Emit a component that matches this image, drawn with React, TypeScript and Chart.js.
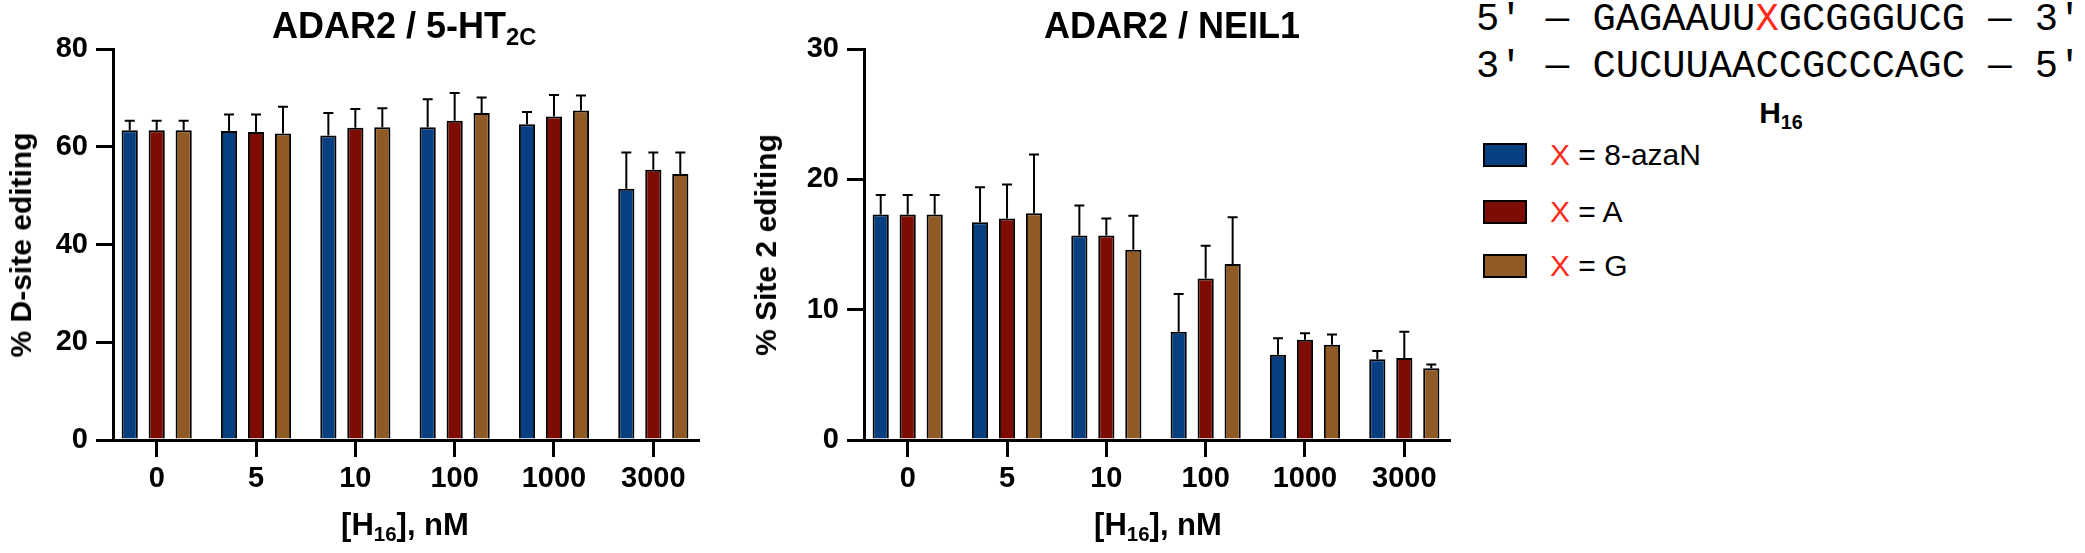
import React, { useEffect, useRef } from "react";
import { Chart, registerables } from "chart.js";

Chart.register(...registerables);

// ---------- data ----------
const categories = ["0", "5", "10", "100", "1000", "3000"];
const seriesNames = ["8-azaN", "A", "G"];
const seriesColors = ["#073f80", "#7f0c03", "#8f5a24"];

// ADAR2 / 5-HT2C, % D-site editing (mean, SD)
const htAzaN = [63.4, 63.2, 62.3, 64.0, 64.6, 51.4];
const htAzaNErr = [1.9, 3.4, 4.6, 5.7, 2.5, 7.4];
const htA = [63.4, 63.0, 63.9, 65.3, 66.2, 55.3];
const htAErr = [1.9, 3.6, 3.8, 5.7, 4.4, 3.5];
const htG = [63.4, 62.7, 64.0, 66.9, 67.4, 54.4];
const htGErr = [1.9, 5.5, 3.9, 3.2, 3.1, 4.4];

// ADAR2 / NEIL1, % Site 2 editing (mean, SD)
const neAzaN = [17.3, 16.7, 15.7, 8.3, 6.55, 6.2];
const neAzaNErr = [1.5, 2.7, 2.3, 2.9, 1.25, 0.63];
const neA = [17.3, 17.0, 15.7, 12.4, 7.7, 6.3];
const neAErr = [1.5, 2.6, 1.3, 2.5, 0.5, 2.0];
const neG = [17.3, 17.4, 14.6, 13.5, 7.3, 5.5];
const neGErr = [1.5, 4.5, 2.6, 3.6, 0.8, 0.3];

const htTicks = [0, 20, 40, 60, 80];
const neTicks = [0, 10, 20, 30];

const FONT = "'Liberation Sans', Arial, Helvetica, sans-serif";
Chart.defaults.font.family = FONT;

function makeErrPlugin(means: number[][], errs: number[][]) {
  return {
    id: "errbars",
    afterDatasetsDraw(chart: any) {
      const ctx = chart.ctx;
      const y = chart.scales.y;
      ctx.save();
      ctx.strokeStyle = "#000";
      ctx.lineWidth = 2;
      means.forEach((m, i) => {
        const meta = chart.getDatasetMeta(i);
        meta.data.forEach((bar: any, j: number) => {
          const top = y.getPixelForValue(m[j] + errs[i][j]);
          const base = y.getPixelForValue(m[j]);
          ctx.beginPath();
          ctx.moveTo(bar.x, base);
          ctx.lineTo(bar.x, top);
          ctx.moveTo(bar.x - 5, top);
          ctx.lineTo(bar.x + 5, top);
          ctx.stroke();
        });
      });
      ctx.restore();
    },
  };
}

function makeConfig(
  means: number[][],
  errs: number[][],
  ticks: number[],
  yAxisWidth: number,
  padRight: number
): any {
  const tickFont = { size: 29, weight: "bold" as const, family: FONT };
  return {
    type: "bar",
    data: {
      datasets: means.map((m, i) => ({
        label: seriesNames[i],
        data: m.map((v, j) => ({ x: j, y: v })),
        backgroundColor: seriesColors[i],
        borderColor: "#000",
        borderWidth: 2,
        borderSkipped: "start",
        categoryPercentage: 0.815,
        barPercentage: 0.6,
      })),
    },
    options: {
      responsive: false,
      animation: false,
      events: [],
      layout: { padding: { top: 49, right: padRight, bottom: 0, left: 0 } },
      plugins: { legend: { display: false }, tooltip: { enabled: false }, title: { display: false } },
      scales: {
        x: {
          type: "linear",
          bounds: "data",
          min: -0.44,
          max: 5.45,
          offset: false,
          grid: {
            offset: false,
            drawOnChartArea: false,
            drawTicks: true,
            tickLength: 17,
            color: "#000",
            lineWidth: 3,
          },
          border: { display: true, color: "#000", width: 3 },
          ticks: {
            autoSkip: false,
            maxRotation: 0,
            minRotation: 0,
            padding: 5,
            color: "#000",
            font: tickFont,
            callback: (v: number) => {
              const k = Math.round(v);
              return k >= 0 && k < categories.length ? categories[k] : "";
            },
          },
          afterBuildTicks: (s: any) => {
            s.ticks = categories.map((_, k) => ({ value: k }));
          },
          afterFit: (s: any) => {
            s.height = 113;
          },
        },
        y: {
          min: ticks[0],
          max: ticks[ticks.length - 1],
          grid: {
            drawOnChartArea: false,
            drawTicks: true,
            tickLength: 17,
            color: "#000",
            lineWidth: 3,
          },
          border: { display: true, color: "#000", width: 3 },
          ticks: {
            stepSize: ticks[1] - ticks[0],
            padding: 8,
            color: "#000",
            font: tickFont,
          },
          afterFit: (s: any) => {
            s.width = yAxisWidth;
          },
        },
      },
    },
    plugins: [makeErrPlugin(means, errs)],
  };
}

function BarPanel(props: {
  left: number;
  width: number;
  means: number[][];
  errs: number[][];
  ticks: number[];
  yAxisWidth: number;
  padRight: number;
}) {
  const ref = useRef<HTMLCanvasElement | null>(null);
  useEffect(() => {
    if (!ref.current) return;
    const chart = new Chart(
      ref.current,
      makeConfig(props.means, props.errs, props.ticks, props.yAxisWidth, props.padRight)
    );
    return () => chart.destroy();
  }, []);
  return (
    <canvas
      ref={ref}
      width={props.width}
      height={553}
      style={{ position: "absolute", left: props.left, top: 0, width: props.width, height: 553 }}
    />
  );
}

const abs = (extra: React.CSSProperties): React.CSSProperties => ({
  position: "absolute",
  whiteSpace: "nowrap",
  lineHeight: 1,
  ...extra,
});

const subStyle: React.CSSProperties = { fontSize: "0.66em", verticalAlign: "-0.3em" };
const MONO = "'Liberation Mono', 'DejaVu Sans Mono', monospace";

export default function App() {
  return (
    <div
      style={{
        position: "absolute",
        left: 0,
        top: 0,
        width: 2085,
        height: 553,
        background: "#fff",
        fontFamily: FONT,
        color: "#000",
        overflow: "hidden",
      }}
    >
      <BarPanel
        left={0}
        width={720}
        means={[htAzaN, htA, htG]}
        errs={[htAzaNErr, htAErr, htGErr]}
        ticks={htTicks}
        yAxisWidth={113}
        padRight={22}
      />
      <BarPanel
        left={740}
        width={730}
        means={[neAzaN, neA, neG]}
        errs={[neAzaNErr, neAErr, neGErr]}
        ticks={neTicks}
        yAxisWidth={124}
        padRight={21}
      />

      {/* titles */}
      <div style={abs({ left: 272, top: 8, fontSize: 36, fontWeight: "bold" })}>
        ADAR2 / 5-HT<sub style={subStyle}>2C</sub>
      </div>
      <div style={abs({ left: 1044, top: 8, fontSize: 36, fontWeight: "bold" })}>ADAR2 / NEIL1</div>

      {/* y-axis titles */}
      <div
        style={abs({
          left: 21,
          top: 245,
          fontSize: 30,
          fontWeight: "bold",
          transform: "translate(-50%, -50%) rotate(-90deg)",
        })}
      >
        % D-site editing
      </div>
      <div
        style={abs({
          left: 766,
          top: 245,
          fontSize: 30,
          fontWeight: "bold",
          transform: "translate(-50%, -50%) rotate(-90deg)",
        })}
      >
        % Site 2 editing
      </div>

      {/* x-axis titles */}
      <div
        style={abs({ left: 405, top: 527, fontSize: 31, fontWeight: "bold", transform: "translate(-50%, -50%)" })}
      >
        [H<sub style={subStyle}>16</sub>], nM
      </div>
      <div
        style={abs({ left: 1158, top: 527, fontSize: 31, fontWeight: "bold", transform: "translate(-50%, -50%)" })}
      >
        [H<sub style={subStyle}>16</sub>], nM
      </div>

      {/* sequence */}
      <div style={abs({ left: 1476, top: 1, fontSize: 38.8, fontFamily: MONO })}>
        5′ — GAGAAUU<span style={{ color: "#ff2a1a" }}>X</span>GCGGGUCG — 3′
      </div>
      <div style={abs({ left: 1476, top: 48, fontSize: 38.8, fontFamily: MONO })}>
        3′ — CUCUUAACCGCCCAGC — 5′
      </div>
      <div style={abs({ left: 1781, top: 115, fontSize: 30, fontWeight: "bold", transform: "translate(-50%, -50%)" })}>
        H<sub style={subStyle}>16</sub>
      </div>

      {/* legend */}
      {seriesNames.map((name, i) => {
        const cy = [155, 212, 266][i];
        return (
          <React.Fragment key={name}>
            <div
              style={{
                position: "absolute",
                left: 1483,
                top: cy - 12,
                width: 44,
                height: 24,
                boxSizing: "border-box",
                border: "2px solid #000",
                background: seriesColors[i],
              }}
            />
            <div style={abs({ left: 1550, top: cy - 15, fontSize: 30 })}>
              <span style={{ color: "#ff2a1a" }}>X</span> = {name}
            </div>
          </React.Fragment>
        );
      })}
    </div>
  );
}
